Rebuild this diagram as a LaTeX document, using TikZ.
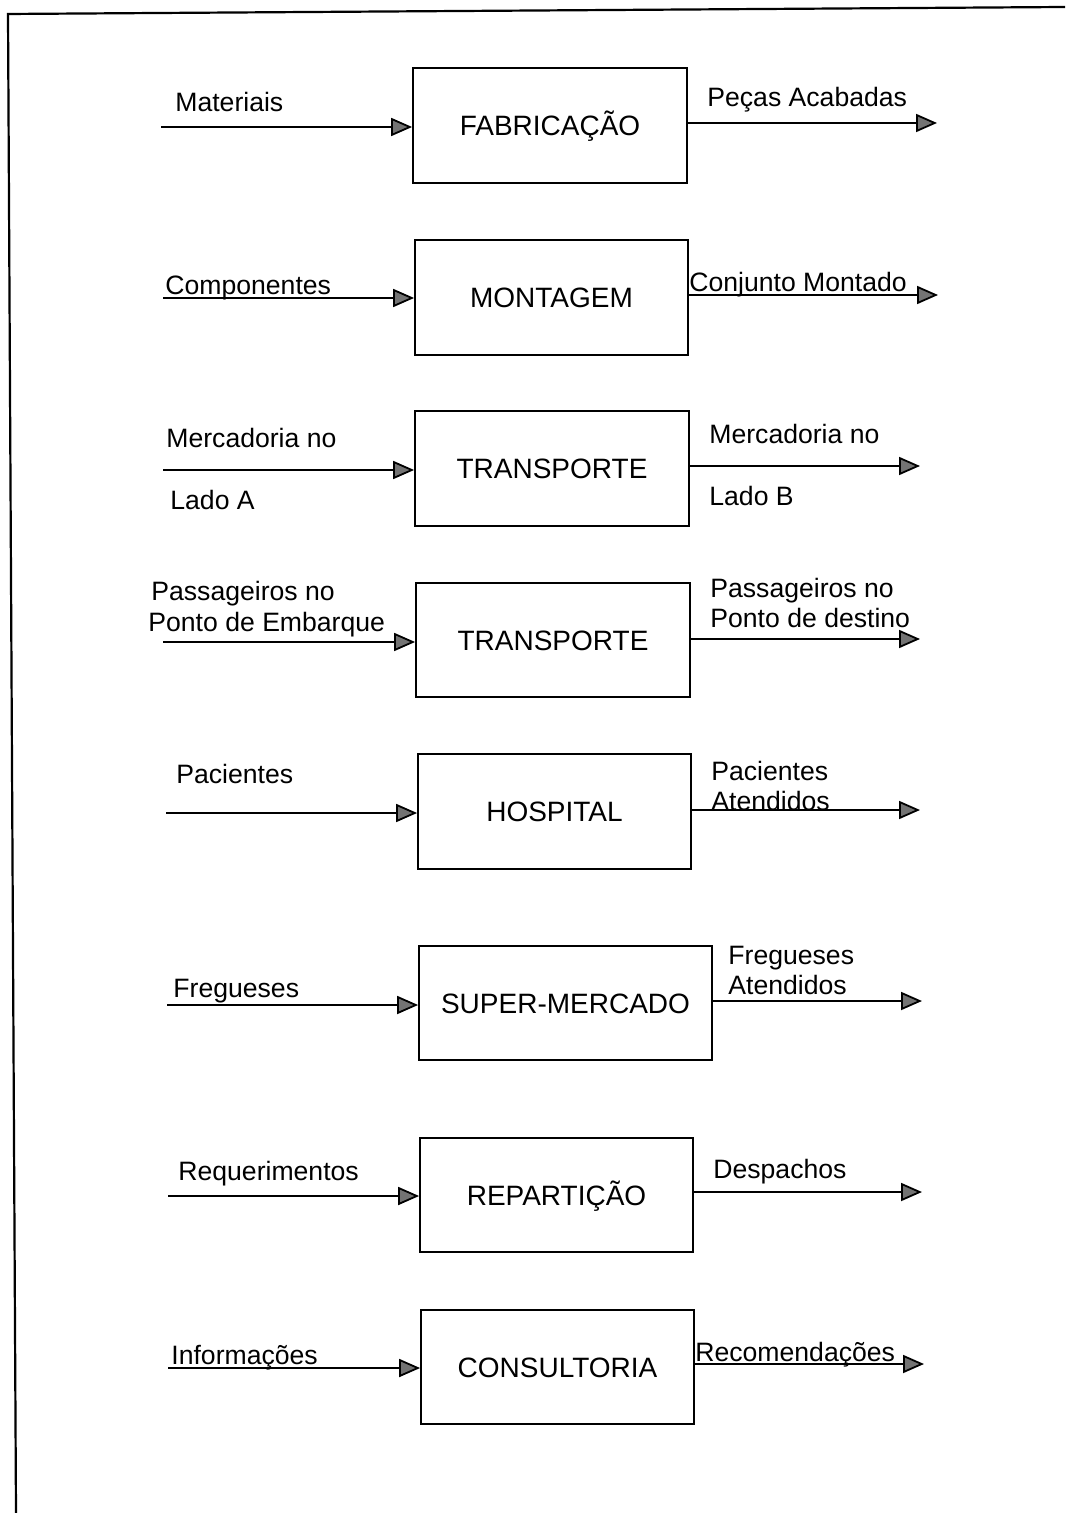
\documentclass[tikz,border=0pt]{standalone}
\usepackage{fontspec}
\setmainfont{Liberation Sans}
\usetikzlibrary{arrows.meta}
\begin{document}
\begin{tikzpicture}[x=0.5pt,y=-0.5pt,
  every node/.style={font=\fontsize{13.3pt}{15.5pt}\selectfont, inner sep=0pt},
  procbox/.style={draw, line width=0.9pt, font=\fontsize{14pt}{16pt}\selectfont,
    text height=10pt, text depth=0pt},
  lbl/.style={anchor=base west},
  flow/.style={line width=0.9pt, -{Triangle[length=10.5pt,width=9pt,fill=black!55]}}]
\useasboundingbox (0,0) rectangle (1065,1513);
% page frame
\draw[line width=1.1pt] (7,14) -- (1065,7);
\draw[line width=1.1pt] (8,14) -- (16,1513);

% 1 - fabricacao
\node[procbox, minimum width=137pt, minimum height=57.5pt] (b1) at (550,125.5) {FABRICAÇÃO};
\coordinate (i1) at (161,127); \coordinate (o1) at (937,123);
\draw[flow] (i1) -- (i1 -| b1.west);
\draw[flow] (o1 -| b1.east) -- (o1);
\node[lbl] (l1a) at (175,112) {Materiais};
\node[lbl] (l1b) at (707,107) {Peças Acabadas};

% 2 - montagem
\node[procbox, minimum width=136.5pt, minimum height=57.5pt] (b2) at (551.5,297.5) {MONTAGEM};
\coordinate (i2) at (163,298); \coordinate (o2) at (938,295);
\draw[flow] (i2) -- (i2 -| b2.west);
\draw[flow] (o2 -| b2.east) -- (o2);
\node[lbl] (l2a) at (165,295) {Componentes};
\node[lbl] (l2b) at (689,292) {Conjunto Montado};

% 3 - transporte de mercadoria
\node[procbox, minimum width=137pt, minimum height=57.5pt] (b3) at (552,468.5) {TRANSPORTE};
\coordinate (i3) at (163,470); \coordinate (o3) at (920,466);
\draw[flow] (i3) -- (i3 -| b3.west);
\draw[flow] (o3 -| b3.east) -- (o3);
\node[lbl] (l3a) at (166,447) {Mercadoria no};
\node[lbl] (l3b) at (170,509) {Lado A};
\node[lbl] (l3c) at (709,444) {Mercadoria no};
\node[lbl] (l3d) at (709,505) {Lado B};

% 4 - transporte de passageiros
\node[procbox, minimum width=137pt, minimum height=57pt] (b4) at (553,640) {TRANSPORTE};
\coordinate (i4) at (163,642); \coordinate (o4) at (920,639);
\draw[flow] (i4) -- (i4 -| b4.west);
\draw[flow] (o4 -| b4.east) -- (o4);
\node[lbl] (l4a) at (151,600) {Passageiros no};
\node[lbl] (l4b) at (148,631) {Ponto de Embarque};
\node[lbl] (l4c) at (710,597) {Passageiros no};
\node[lbl] (l4d) at (710,627) {Ponto de destino};

% 5 - hospital
\node[procbox, minimum width=136.5pt, minimum height=57.5pt] (b5) at (554.5,811.5) {HOSPITAL};
\coordinate (i5) at (166,813); \coordinate (o5) at (920,810);
\draw[flow] (i5) -- (i5 -| b5.west);
\draw[flow] (o5 -| b5.east) -- (o5);
\node[lbl] (l5a) at (176,783) {Pacientes};
\node[lbl] (l5b) at (711,780) {Pacientes};
\node[lbl] (l5c) at (711,810) {Atendidos};

% 6 - supermercado
\node[procbox, minimum width=146.5pt, minimum height=57pt] (b6) at (565.5,1003) {SUPER-MERCADO};
\coordinate (i6) at (167,1005); \coordinate (o6) at (922,1001);
\draw[flow] (i6) -- (i6 -| b6.west);
\draw[flow] (o6 -| b6.east) -- (o6);
\node[lbl] (l6a) at (173,997) {Fregueses};
\node[lbl] (l6b) at (728,964) {Fregueses};
\node[lbl] (l6c) at (728,994) {Atendidos};

% 7 - reparticao
\node[procbox, minimum width=136.5pt, minimum height=57pt] (b7) at (556.5,1195) {REPARTIÇÃO};
\coordinate (i7) at (168,1196); \coordinate (o7) at (922,1192);
\draw[flow] (i7) -- (i7 -| b7.west);
\draw[flow] (o7 -| b7.east) -- (o7);
\node[lbl] (l7a) at (178,1180) {Requerimentos};
\node[lbl] (l7b) at (713,1178) {Despachos};

% 8 - consultoria
\node[procbox, minimum width=136.5pt, minimum height=57pt] (b8) at (557.5,1367) {CONSULTORIA};
\coordinate (i8) at (168,1368); \coordinate (o8) at (924,1364);
\draw[flow] (i8) -- (i8 -| b8.west);
\draw[flow] (o8 -| b8.east) -- (o8);
\node[lbl] (l8a) at (171,1364) {Informações};
\node[lbl] (l8b) at (695,1361) {Recomendações};
\end{tikzpicture}
\end{document}
